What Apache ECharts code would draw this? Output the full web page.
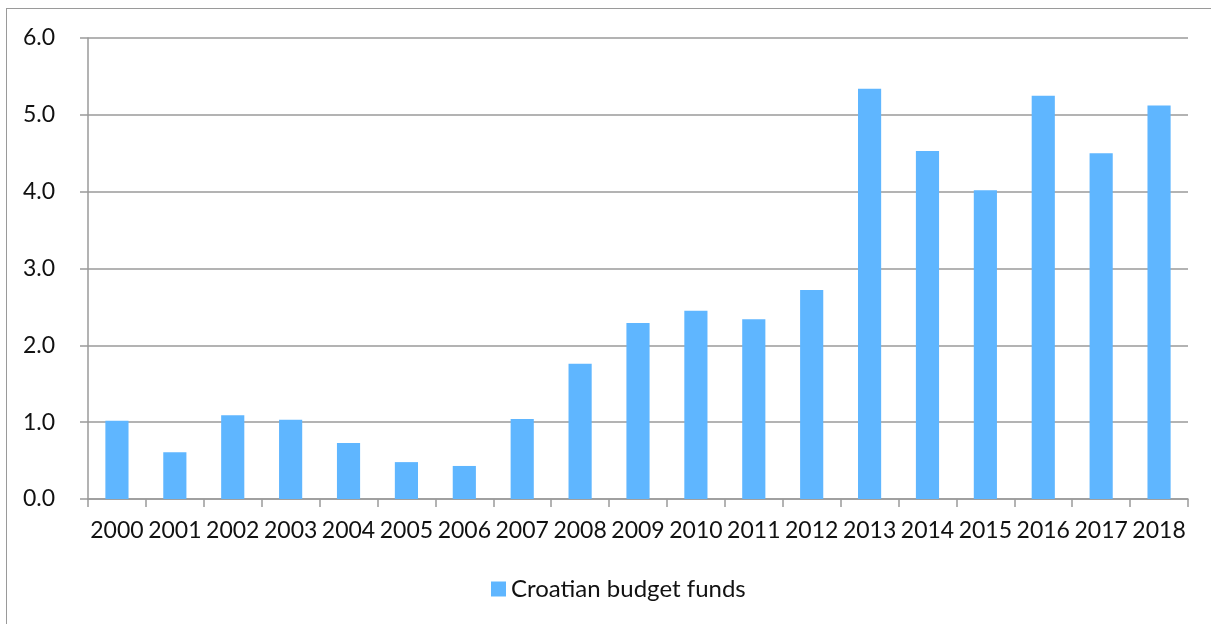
<!DOCTYPE html>
<html><head><meta charset="utf-8">
<script src="https://cdn.jsdelivr.net/npm/echarts@6/dist/echarts.min.js"></script>
<style>
html,body{margin:0;padding:0;background:#fff;}
#frame{position:absolute;left:6px;top:8px;width:1220px;height:640px;border:1px solid #9a9a9a;box-sizing:border-box;}
#c{position:absolute;left:0;top:0;width:1211px;height:624px;}
</style></head>
<body>
<div id="frame"></div>
<div id="c"></div>
<script>
const years = ['2000','2001','2002','2003','2004','2005','2006','2007','2008','2009','2010','2011','2012','2013','2014','2015','2016','2017','2018'];
const budgetFunds = [1.02,0.61,1.09,1.03,0.73,0.48,0.43,1.04,1.76,2.29,2.45,2.34,2.72,5.34,4.53,4.02,5.25,4.50,5.12];
const seriesName = 'Croatian budget funds';
const yTicks = {min:0, max:6, interval:1};

const chart = echarts.init(document.getElementById('c'), null, {renderer:'canvas'});
const fontFam = 'Lato, "Open Sans", sans-serif';
chart.setOption({
  animation:false,
  grid:{left:88, right:23, top:38, bottom:125, containLabel:false},
  legend:{
    data:[seriesName], bottom:18, left:486,
    itemWidth:15, itemHeight:15, itemGap:8, icon:'rect',
    textStyle:{fontFamily:fontFam, fontSize:24, color:'#111'}
  },
  xAxis:{
    type:'category', data:years,
    axisLine:{lineStyle:{color:'#9a9a9a', width:1.5}},
    axisTick:{show:true, length:8, alignWithLabel:false, lineStyle:{color:'#9a9a9a', width:1.5}},
    axisLabel:{fontFamily:fontFam, fontSize:23, color:'#111', margin:20, interval:0}
  },
  yAxis:{
    type:'value', min:yTicks.min, max:yTicks.max, interval:yTicks.interval,
    axisLine:{show:true, lineStyle:{color:'#9a9a9a', width:1.5}},
    axisTick:{show:true, length:8, lineStyle:{color:'#9a9a9a', width:1.5}},
    splitLine:{lineStyle:{color:'#9a9a9a', width:1.5}},
    axisLabel:{fontFamily:fontFam, fontSize:23, color:'#111', margin:33, formatter:v=>v.toFixed(1)}
  },
  series:[{
    name:seriesName, type:'bar', data:budgetFunds, barWidth:'40%',
    itemStyle:{color:'#5FB6FF'}
  }]
});
</script>
</body></html>
